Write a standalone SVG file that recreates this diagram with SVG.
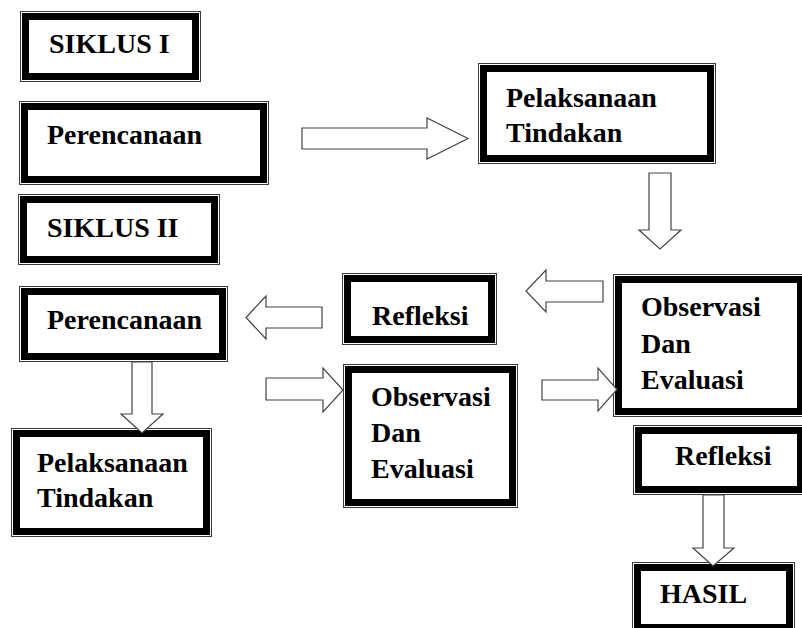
<svg xmlns="http://www.w3.org/2000/svg" width="802" height="628" viewBox="0 0 802 628">
<style>
.o{fill:#fff;stroke:#3a3a3a;stroke-width:1}
.t{fill:none;stroke:#000;stroke-width:7}
.lb{font-family:"Liberation Serif","Times New Roman",serif;font-weight:bold;font-size:28px;fill:#000}
.ar{fill:#fff;stroke:#444;stroke-width:1.2;stroke-linejoin:miter}
</style>
<rect width="802" height="628" fill="#fff"/>
<g id="siklus1">
<rect class="o" x="20.5" y="11.5" width="180" height="70"/>
<rect class="t" x="25.5" y="16.5" width="170" height="60"/>
<text class="lb" x="49" y="53">SIKLUS I</text>
</g>
<g id="perencanaan1">
<rect class="o" x="19.5" y="101.5" width="249" height="83"/>
<rect class="t" x="24.5" y="106.5" width="239" height="73"/>
<text class="lb" x="47" y="144">Perencanaan</text>
</g>
<g id="pelaksanaan1">
<rect class="o" x="478.5" y="63.5" width="237" height="100"/>
<rect class="t" x="483.5" y="68.5" width="227" height="90"/>
<text class="lb" x="506" y="107">Pelaksanaan</text>
<text class="lb" x="506" y="142">Tindakan</text>
</g>
<g id="siklus2">
<rect class="o" x="18.5" y="194.5" width="201" height="70"/>
<rect class="t" x="23.5" y="199.5" width="191" height="60"/>
<text class="lb" x="47" y="237">SIKLUS II</text>
</g>
<g id="perencanaan2">
<rect class="o" x="19.5" y="286.5" width="208" height="75"/>
<rect class="t" x="24.5" y="291.5" width="198" height="65"/>
<text class="lb" x="47" y="329">Perencanaan</text>
</g>
<g id="pelaksanaan2">
<rect class="o" x="11.5" y="428.5" width="200" height="108"/>
<rect class="t" x="16.5" y="433.5" width="190" height="98"/>
<text class="lb" x="37" y="472">Pelaksanaan</text>
<text class="lb" x="37" y="507">Tindakan</text>
</g>
<g id="refleksi1">
<rect class="o" x="342.5" y="273.5" width="154" height="71"/>
<rect class="t" x="347.5" y="278.5" width="144" height="61"/>
<text class="lb" x="372" y="325">Refleksi</text>
</g>
<g id="observasi2">
<rect class="o" x="343.5" y="364.5" width="174" height="143"/>
<rect class="t" x="348.5" y="369.5" width="164" height="133"/>
<text class="lb" x="371" y="406">Observasi</text>
<text class="lb" x="371" y="442">Dan</text>
<text class="lb" x="371" y="478">Evaluasi</text>
</g>
<g id="observasi1">
<rect class="o" x="613.5" y="274.5" width="193" height="142"/>
<rect class="t" x="618.5" y="279.5" width="182" height="132"/>
<text class="lb" x="641" y="316">Observasi</text>
<text class="lb" x="641" y="353">Dan</text>
<text class="lb" x="641" y="389">Evaluasi</text>
</g>
<g id="refleksi2">
<rect class="o" x="633.5" y="425.5" width="173" height="69"/>
<rect class="t" x="638.5" y="430.5" width="162" height="59"/>
<text class="lb" x="675" y="465">Refleksi</text>
</g>
<g id="hasil">
<rect class="o" x="632.5" y="562.5" width="162" height="70"/>
<rect class="t" x="637.5" y="567.5" width="152" height="60"/>
<text class="lb" x="660" y="603">HASIL</text>
</g>
<g id="connectors">
<polygon class="ar" points="302,128 427,128 427,118 468,138.5 427,159 427,149 302,149"/>
<polygon class="ar" points="649,173 671,173 671,230 681,230 660,249 639,230 649,230"/>
<polygon class="ar" points="603,281 546,281 546,270 526,291 546,312 546,302 603,302"/>
<polygon class="ar" points="322,307 266,307 266,296 246,317.5 266,339 266,328 322,328"/>
<polygon class="ar" points="132,362 152,362 152,414 163,414 142,433 121,414 132,414"/>
<polygon class="ar" points="266,378 323,378 323,368 343,390 323,412 323,400 266,400"/>
<polygon class="ar" points="542,380 598,380 598,368 617,389.5 598,411 598,400 542,400"/>
<polygon class="ar" points="703,495 724,495 724,548 734,548 713,566 693,548 703,548"/>
</g>
</svg>
